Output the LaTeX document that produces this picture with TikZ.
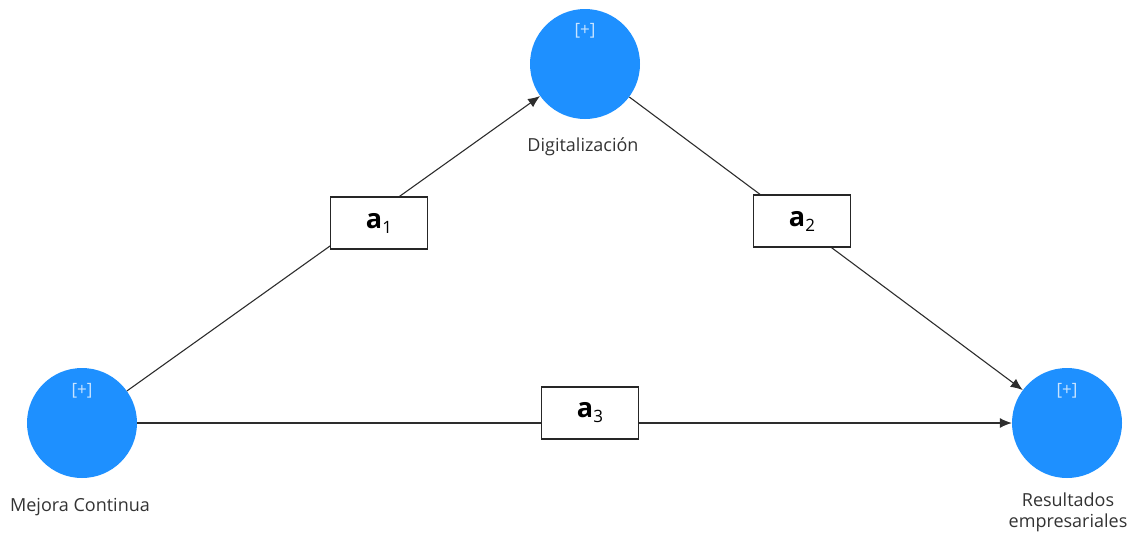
\documentclass[tikz,border=0pt]{standalone}
\usepackage{fontspec}
\setmainfont{Open Sans}
\usetikzlibrary{arrows.meta}
\definecolor{lvblue}{RGB}{30,144,255}
\definecolor{plusc}{RGB}{200,228,255}
\definecolor{edgec}{RGB}{45,45,45}
\begin{document}
\begin{tikzpicture}[x=1pt,y=-1pt,
  latent/.style={circle,fill=lvblue,minimum size=110pt,inner sep=0pt},
  plus/.style={text=plusc,font=\fontsize{17}{17}\selectfont},
  lbl/.style={text=black!80,font=\fontsize{18}{21}\selectfont,align=center},
  pathbox/.style={draw=black!85,line width=1.3pt,fill=white,minimum width=97pt,minimum height=52pt,inner sep=0pt,font=\fontsize{27}{27}\selectfont},
  conn/.style={draw=edgec,line width=1.1pt,-{Latex[length=12pt,width=10pt]}}]
\useasboundingbox (0,0) rectangle (1129,544);
\node[latent] (dig) at (585,64) {};
\node[latent] (mc) at (82,423) {};
\node[latent] (res) at (1067,423) {};
\node[plus] (pdig) at (585,31) {[+]};
\node[plus] (pmc) at (82,391) {[+]};
\node[plus] (pres) at (1067,391) {[+]};
\node[lbl] (ldig) at (583,147) {Digitalización};
\node[lbl] (lmc) at (80,507) {Mejora Continua};
\node[lbl] (lres) at (1068,512) {Resultados\\empresariales};
\draw[conn] (mc) -- (dig);
\draw[conn] (dig) -- (res);
\draw[conn] (mc) -- (res);
\node[pathbox] (a1) at (379,223) {\textbf{a}\raisebox{-5pt}{\fontsize{17}{17}\selectfont 1}};
\node[pathbox] (a2) at (802,221) {\textbf{a}\raisebox{-5pt}{\fontsize{17}{17}\selectfont 2}};
\node[pathbox] (a3) at (590,413) {\textbf{a}\raisebox{-5pt}{\fontsize{17}{17}\selectfont 3}};
\end{tikzpicture}
\end{document}
